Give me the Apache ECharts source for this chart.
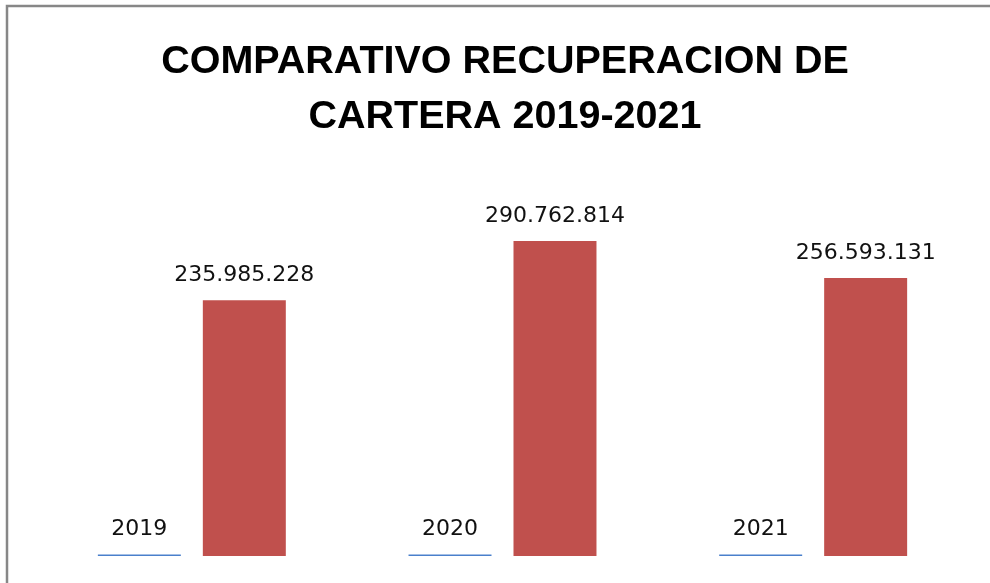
<!DOCTYPE html>
<html>
<head>
<meta charset="utf-8">
<script src="https://cdn.jsdelivr.net/npm/echarts@6/dist/echarts.min.js"></script>
<style>
html,body{margin:0;padding:0;background:#fff;}
#chart{width:990px;height:583px;}
</style>
</head>
<body>
<div id="chart"></div>
<script>
var titleText = 'COMPARATIVO RECUPERACION DE\nCARTERA 2019-2021';
var categories = ['2019', '2020', '2021'];
var yearValues = [2019, 2020, 2021];
var carteraValues = [235985228, 290762814, 256593131];

function fmt(v) {
  return String(v).replace(/\B(?=(\d{3})+(?!\d))/g, '.');
}

var chart = echarts.init(document.getElementById('chart'));
chart.setOption({
  animation: false,
  backgroundColor: '#ffffff',
  title: {
    text: titleText,
    left: 500,
    top: 30,
    textAlign: 'center',
    textStyle: {
      fontFamily: 'Liberation Sans',
      fontWeight: 'bold',
      fontSize: 39.5,
      lineHeight: 55,
      color: '#000000'
    }
  },
  graphic: [{
    type: 'rect',
    shape: { x: 7, y: 6, width: 1100, height: 700 },
    style: { fill: 'none', stroke: '#878787', lineWidth: 2.5 },
    silent: true
  }],
  grid: { left: 36.5, right: 21.5, top: 176.8, bottom: 27 },
  xAxis: {
    type: 'category',
    data: categories,
    show: false
  },
  yAxis: {
    type: 'value',
    min: 0,
    max: 350000000,
    show: false,
    splitLine: { show: false }
  },
  series: [{
    type: 'bar',
    data: yearValues,
    barGap: '26.5%',
    barCategoryGap: '39.5%',
    barMinHeight: 1.5,
    itemStyle: { color: '#4a80cc' },
    label: {
      show: true,
      position: 'top',
      distance: 14,
      fontFamily: 'DejaVu Sans',
      fontSize: 22,
      color: '#111111',
      formatter: function (p) { return String(p.value); }
    }
  }, {
    type: 'bar',
    data: carteraValues,
    barGap: '26.5%',
    barCategoryGap: '39.5%',
    itemStyle: { color: '#c0504d' },
    label: {
      show: true,
      position: 'top',
      distance: 14,
      fontFamily: 'DejaVu Sans',
      fontSize: 22,
      color: '#111111',
      formatter: function (p) { return fmt(p.value); }
    }
  }]
});
</script>
</body>
</html>
